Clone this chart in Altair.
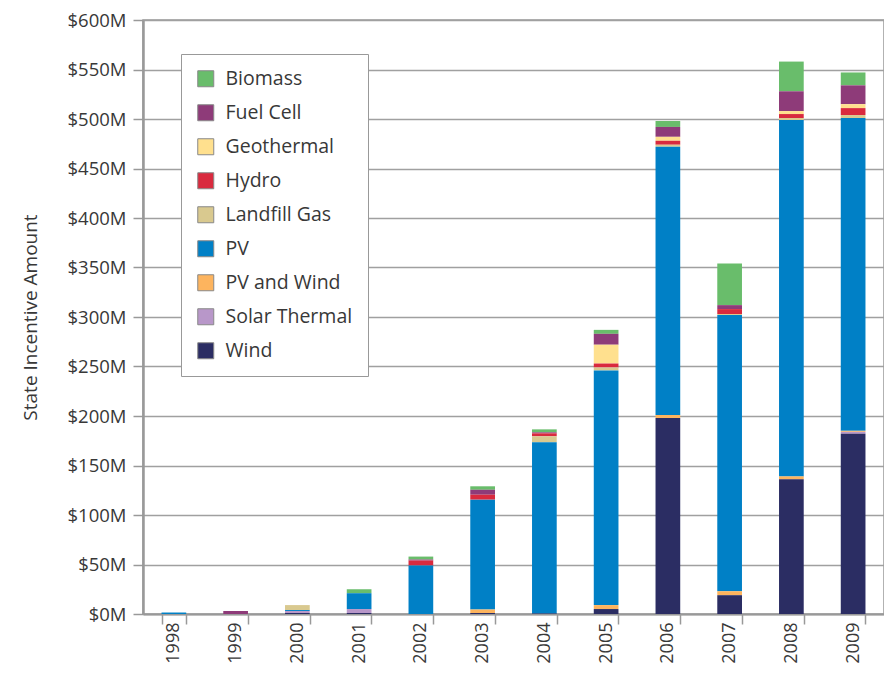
import altair as alt
import pandas as pd

years = ["1998", "1999", "2000", "2001", "2002", "2003", "2004", "2005", "2006", "2007", "2008", "2009"]

# values in $M, stacked from bottom (Wind) to top (Biomass)
wind          = [0,   0, 1,  1,  0,   1, 0.5,   5, 198,  19, 136, 182]
solar_thermal = [0,   0, 2,  4,  0,   0,   0,   0,   0,   0,   0,   2]
pv_and_wind   = [0,   0, 0,  0,  0, 3.5,   0,   4,   3,   4,   3,   1]
pv            = [1.5, 0, 1, 16, 49, 111, 173, 237, 271, 279, 360, 316]
landfill_gas  = [0,   0, 5,  0,  0,   0,   6,   3,   2,   1,   2,   3]
hydro         = [0,   0, 0,  0,  5,   5,   3,   4,   4,   5,   4,   7]
geothermal    = [0,   0, 0,  0,  0,   0,   0,  19,   4,   0,   3,   4]
fuel_cell     = [0,   3, 0,  0,  1,   5,   1,  11,  10,   4,  20,  19]
biomass       = [0,   0, 0,  4,  3, 3.5,   3,   4,   6,  42,  30,  13]

legend_order = ["Biomass", "Fuel Cell", "Geothermal", "Hydro", "Landfill Gas",
                "PV", "PV and Wind", "Solar Thermal", "Wind"]
colors = ["#69bd6b", "#8e3b79", "#ffe08e", "#d92a3e", "#d9c98f",
          "#0080c6", "#fdb45e", "#b897c9", "#2b2d63"]

series = {
    "Biomass": biomass, "Fuel Cell": fuel_cell, "Geothermal": geothermal,
    "Hydro": hydro, "Landfill Gas": landfill_gas, "PV": pv,
    "PV and Wind": pv_and_wind, "Solar Thermal": solar_thermal, "Wind": wind,
}

rows = []
for name, vals in series.items():
    rank = len(legend_order) - 1 - legend_order.index(name)
    for yr, v in zip(years, vals):
        rows.append({"Year": yr, "Technology": name, "Amount": v, "rank": rank})
df = pd.DataFrame(rows)

TXT = "#383838"
FONT = "Open Sans"

chart = alt.Chart(df).mark_bar().encode(
    x=alt.X("Year:N", sort=years, title=None,
            scale=alt.Scale(paddingInner=0.6, paddingOuter=0.3),
            axis=alt.Axis(labelAngle=270, tickBand="extent", tickSize=10,
                          labelPadding=-2, labelFontSize=18, labelColor=TXT,
                          domainColor="#999999", domainWidth=2, tickColor="#999999",
                          tickWidth=1.5, grid=False, labelFont=FONT)),
    y=alt.Y("Amount:Q", title="State Incentive Amount",
            scale=alt.Scale(domain=[0, 600], nice=False),
            axis=alt.Axis(values=list(range(0, 601, 50)),
                          labelExpr="'$' + datum.value + 'M'",
                          tickSize=10, tickColor="#999999", tickWidth=1.5,
                          domainColor="#999999", domainWidth=2.5,
                          gridColor="#a0a0a0", gridWidth=1.5,
                          labelFontSize=18.5, labelColor=TXT, labelPadding=7,
                          labelFont=FONT,
                          titleFontSize=19, titleFontWeight="normal", titleColor=TXT,
                          titleFont=FONT, titlePadding=27)),
    color=alt.Color("Technology:N",
                    scale=alt.Scale(domain=legend_order, range=colors),
                    legend=alt.Legend(title=None, orient="none", legendX=38, legendY=34,
                                      padding=15, strokeColor="#999999", fillColor="white",
                                      symbolType="square", symbolSize=256,
                                      symbolStrokeColor="#888888", symbolStrokeWidth=1,
                                      symbolOpacity=1,
                                      labelFontSize=19.5, labelColor=TXT,
                                      labelFont=FONT,
                                      rowPadding=13, labelOffset=10)),
    order=alt.Order("rank:Q", sort="ascending"),
).properties(
    width=741, height=594,
    autosize=alt.AutoSizeParams(type="none"),
    padding={"left": 135, "top": 12, "right": 0, "bottom": 51},
).configure_view(
    stroke="#999999", strokeWidth=1.5
)

chart.save("out.html", embed_options={"renderer": "svg", "actions": False})
